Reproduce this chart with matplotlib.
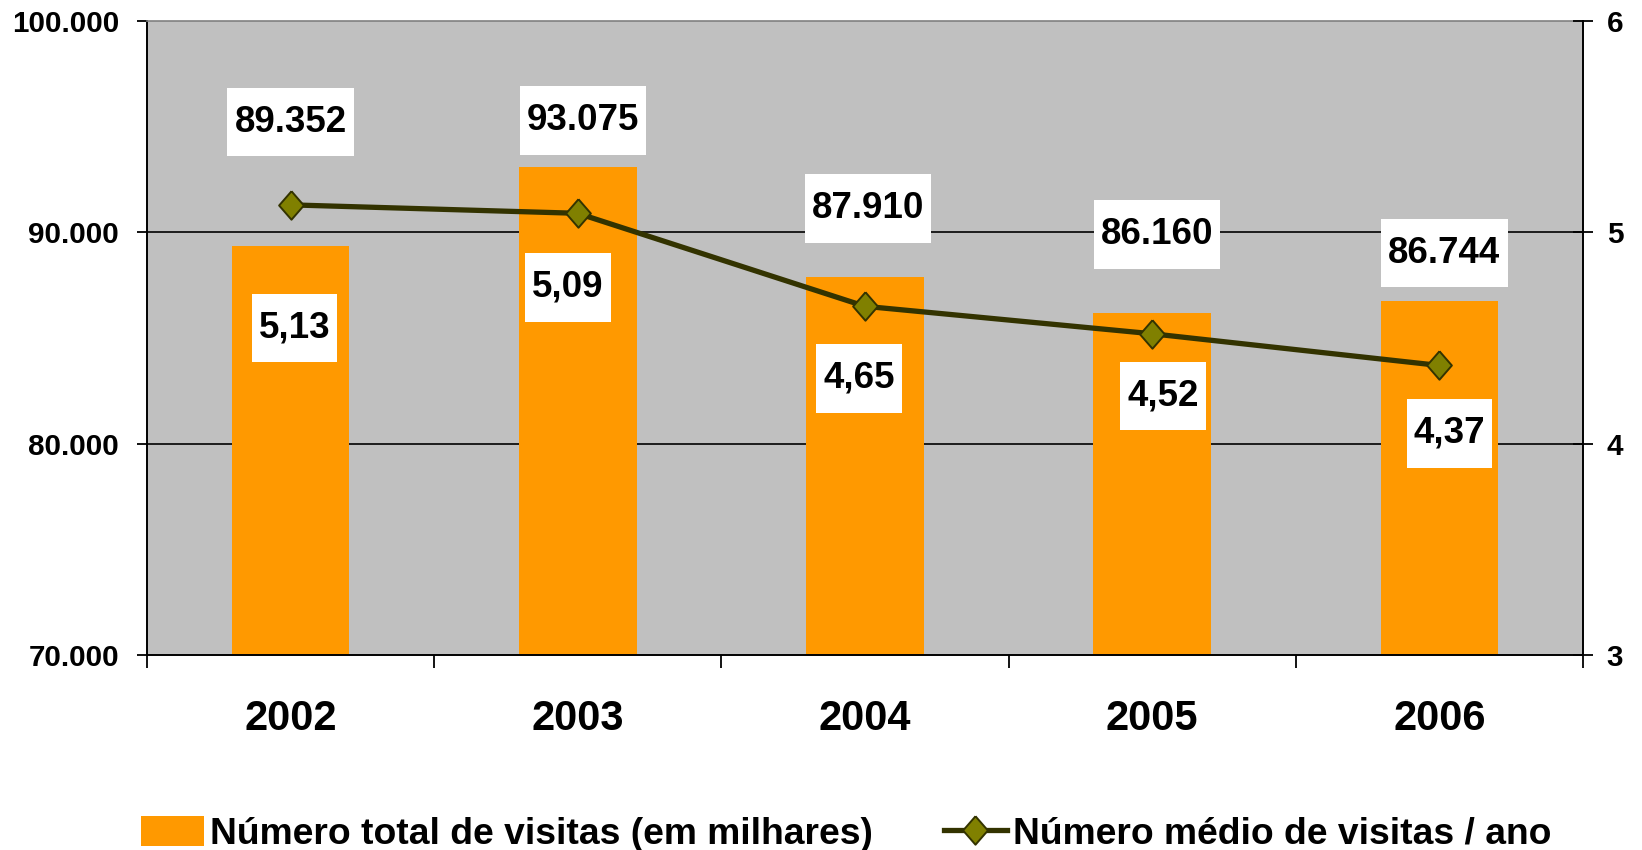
#!/usr/bin/env python3

"""
visitas 2002-2006: barras (total, em milhares) + linha (media por ano)
"""

import numpy as np
import matplotlib
matplotlib.use("Agg")
import matplotlib.pyplot as plt
from matplotlib.path import Path

# dados
YEARS = ["2002", "2003", "2004", "2005", "2006"]
TOTAL_VISITS = [89352, 93075, 87910, 86160, 86744]   # milhares
AVG_VISITS = [5.13, 5.09, 4.65, 4.52, 4.37]          # visitas / ano

LABEL_TOTAL = "Número total de visitas (em milhares)"
LABEL_AVG = "Número médio de visitas / ano"

# onde ficam as caixinhas dos rotulos (offset em pixels a partir da marca)
BAR_LABEL_OFFSETS = [(0, 124), (5, 47), (3, 68), (5, 79), (5, 48)]
LINE_LABEL_OFFSETS = [(4, -123), (-10, -74), (-6, -72), (11, -62), (10, -68)]

ORANGE = "#FF9900"
PLOT_BG = "#C0C0C0"
OLIVE = "#808000"
DARK = "#333300"

plt.rcParams["font.family"] = ["Liberation Sans", "DejaVu Sans"]
plt.rcParams["font.weight"] = "bold"


def label_box(x0, y0, width, height, mutation_size):
    # caixa branca: pouca folga dos lados, altura fixa
    px = 0.19 * mutation_size
    hh = 0.93 * mutation_size
    cy = y0 + height / 2
    verts = [(x0 - px, cy - hh), (x0 + width + px, cy - hh),
             (x0 + width + px, cy + hh), (x0 - px, cy + hh), (x0 - px, cy - hh)]
    codes = [Path.MOVETO, Path.LINETO, Path.LINETO, Path.LINETO, Path.CLOSEPOLY]
    return Path(verts, codes)


def fmt_thousands(v):
    return "{:,}".format(v).replace(",", ".")


def fmt_decimal(v):
    return "{:.2f}".format(v).replace(".", ",")


if __name__ == "__main__":
    fig = plt.figure(figsize=(16.42, 8.5), dpi=100)
    ax = fig.add_axes([0.0895, 0.2294, 0.9641 - 0.0895, 0.9753 - 0.2294])
    ax2 = ax.twinx()

    x = np.arange(len(YEARS))

    ax.set_facecolor(PLOT_BG)
    bars = ax.bar(x, TOTAL_VISITS, width=0.41, color=ORANGE, zorder=2)
    ax.set_ylim(70000, 100000)
    ax.set_xlim(-0.5, len(YEARS) - 0.5)
    yt = [70000, 80000, 90000, 100000]
    ax.set_yticks(yt)
    ax.set_yticklabels([fmt_thousands(v) for v in yt], fontsize=21.3, fontweight="bold")
    ax.set_xticks(x)
    ax.set_xticklabels(YEARS, fontsize=30, fontweight="bold")
    ax.set_xticks(np.arange(-0.5, len(YEARS)), minor=True)
    ax.tick_params(axis="x", which="major", length=0, pad=32)
    ax.tick_params(axis="x", which="minor", direction="out", length=9, width=1.3)
    ax.tick_params(axis="y", direction="out", length=7, width=1.3, pad=13)

    ax.set_axisbelow(True)
    ax.yaxis.grid(True, color="black", linewidth=1.2)
    gl = ax.yaxis.get_gridlines()
    gl[0].set_visible(False)
    gl[-1].set_visible(False)

    for side in ["left", "bottom"]:
        ax.spines[side].set_color("black")
        ax.spines[side].set_linewidth(1.4)
    ax.spines["top"].set_color("#808080")
    ax.spines["top"].set_linewidth(1.2)
    ax.spines["right"].set_visible(False)

    diamond = [(0, 1), (0.87, 0), (0, -1), (-0.87, 0), (0, 1)]
    line, = ax2.plot(x, AVG_VISITS, color=DARK, linewidth=3.8, marker=diamond,
                     markersize=20.5, markerfacecolor=OLIVE, markeredgecolor=DARK,
                     markeredgewidth=1.4, zorder=3)
    ax2.set_ylim(3, 6)
    ax2.set_yticks([3, 4, 5, 6])
    ax2.set_yticklabels(["3", "4", "5", "6"], fontsize=21.3, fontweight="bold")
    ax2.tick_params(axis="y", direction="inout", length=14, width=1.3, pad=10)
    for side in ["left", "bottom", "top"]:
        ax2.spines[side].set_visible(False)
    ax2.spines["right"].set_color("black")
    ax2.spines["right"].set_linewidth(1.4)

    box = dict(boxstyle=label_box, facecolor="white", edgecolor="none")

    # rotulos das barras e da linha, todos por cima de tudo
    for i, v in enumerate(TOTAL_VISITS):
        ax2.annotate(fmt_thousands(v), xy=(x[i], v), xycoords=ax.transData,
                     xytext=BAR_LABEL_OFFSETS[i], textcoords="offset pixels",
                     ha="center", va="center", fontsize=26.5, fontweight="bold",
                     bbox=box, zorder=5)
    for i, v in enumerate(AVG_VISITS):
        ax2.annotate(fmt_decimal(v), xy=(x[i], v), xycoords="data",
                     xytext=LINE_LABEL_OFFSETS[i], textcoords="offset pixels",
                     ha="center", va="center", fontsize=26.5, fontweight="bold",
                     bbox=box, zorder=5)

    fig.legend([bars, line], [LABEL_TOTAL, LABEL_AVG], loc="center",
               bbox_to_anchor=(0.5152, 0.019), ncol=2, frameon=False,
               prop=dict(size=26.8, weight="bold"), handlelength=1.7,
               handleheight=0.85, handletextpad=0.16, columnspacing=1.9,
               borderaxespad=0, borderpad=0)

    fig.savefig("out.png", dpi=100)
